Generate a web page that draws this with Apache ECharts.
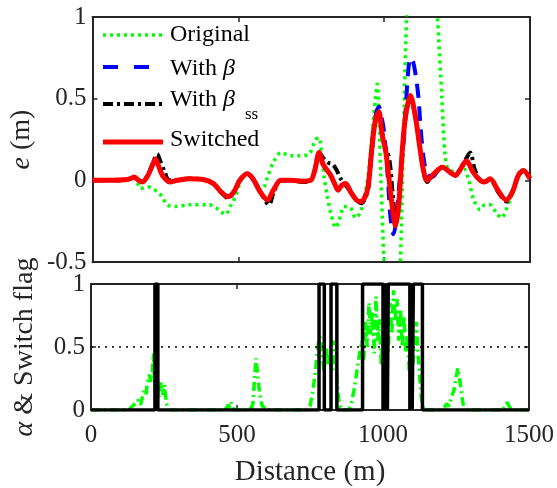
<!DOCTYPE html>
<html><head><meta charset="utf-8">
<script src="https://cdn.jsdelivr.net/npm/echarts@6/dist/echarts.min.js"></script>
<style>html,body{margin:0;padding:0;background:#fff}#c{width:557px;height:488px}</style>
</head><body><div id="c"></div>
<script>
// ---------- data ----------
const xTicksMin = 0, xTicksMax = 1500, xTickStep = 500;

const originalPts = [[0,0],[60,0],[110,0.003],[130,0.01],[143,0.02],[155,-0.02],[164,-0.05],[190,-0.04],[205,-0.05],[222,-0.07],[239,-0.10],[256,-0.15],[285,-0.16],[330,-0.15],[400,-0.15],[433,-0.18],[455,-0.21],[475,-0.15],[490,-0.10],[505,-0.02],[520,0.03],[532,0.04],[550,0.01],[570,-0.05],[588,-0.04],[600,0.02],[623,0.12],[646,0.17],[680,0.15],[703,0.15],[742,0.16],[765,0.25],[777,0.26],[786,0.15],[794,0.02],[805,-0.10],[817,-0.20],[834,-0.29],[850,-0.22],[862,-0.16],[885,-0.17],[902,-0.23],[917,-0.20],[930,-0.12],[945,0.03],[958,0.27],[970,0.5],[976,0.59],[988,0.05],[1000,-0.5],[1015,-0.85],[1035,-0.95],[1050,-0.75],[1056,-0.5],[1066,0.25],[1077,1.0],[1095,1.55],[1120,1.75],[1150,1.7],[1170,1.45],[1183,1.0],[1198,0.5],[1209,0.15],[1220,0.07],[1250,0.05],[1273,0.07],[1290,0.0],[1307,-0.12],[1329,-0.18],[1345,-0.15],[1363,-0.15],[1385,-0.2],[1403,-0.23],[1420,-0.17],[1431,-0.12],[1454,0.0],[1471,0.06],[1490,0.03],[1500,0.01]];

const withBetaPts = [[0,0],[60,0],[110,0.003],[130,0.01],[143,0.02],[158,0.0],[171,-0.01],[190,0.03],[205,0.09],[216,0.13],[226,0.09],[240,0.03],[255,0.0],[265,-0.01],[290,0.0],[330,0.01],[380,0.005],[415,-0.02],[440,-0.07],[465,-0.10],[485,-0.07],[505,0.0],[530,0.04],[550,0.01],[575,-0.07],[600,-0.12],[620,-0.06],[646,0.0],[680,0.0],[720,-0.005],[748,0.0],[762,0.06],[777,0.17],[790,0.1],[805,0.06],[817,0.03],[830,-0.02],[842,-0.06],[855,-0.03],[868,-0.02],[885,-0.07],[905,-0.12],[920,-0.13],[932,-0.11],[945,-0.04],[958,0.22],[970,0.39],[982,0.45],[993,0.37],[1000,0.29],[1010,0.08],[1016,-0.08],[1022,-0.23],[1032,-0.33],[1042,-0.24],[1052,-0.02],[1062,0.14],[1068,0.26],[1075,0.47],[1082,0.66],[1090,0.75],[1100,0.72],[1110,0.62],[1118,0.5],[1125,0.32],[1135,0.14],[1147,0.04],[1164,0.02],[1185,0.06],[1200,0.08],[1225,0.05],[1244,0.03],[1262,0.07],[1282,0.12],[1305,0.05],[1329,0.0],[1345,-0.01],[1363,0.01],[1390,-0.06],[1418,-0.12],[1440,-0.07],[1460,0.03],[1477,0.06],[1500,0.01]];

const withBetaSSPts = [[0,0],[60,0],[110,0.003],[130,0.01],[143,0.02],[158,0.0],[171,-0.01],[192,0.04],[210,0.12],[222,0.16],[232,0.12],[248,0.05],[262,0.0],[290,0.0],[330,0.01],[380,0.005],[415,-0.02],[440,-0.07],[465,-0.11],[485,-0.07],[505,0.0],[530,0.04],[550,0.01],[578,-0.08],[605,-0.15],[622,-0.07],[646,0.0],[680,0.0],[720,-0.01],[748,0.0],[762,0.06],[777,0.17],[790,0.14],[805,0.11],[822,0.1],[835,0.07],[851,0.01],[868,-0.03],[885,-0.07],[905,-0.12],[922,-0.14],[935,-0.11],[945,-0.05],[958,0.18],[970,0.36],[982,0.41],[993,0.3],[1002,0.21],[1012,0.17],[1020,0.1],[1030,-0.1],[1040,-0.27],[1050,-0.15],[1062,0.17],[1073,0.38],[1090,0.51],[1107,0.39],[1124,0.18],[1135,0.05],[1147,-0.01],[1170,0.04],[1200,0.08],[1225,0.05],[1244,0.03],[1262,0.07],[1280,0.13],[1295,0.17],[1310,0.07],[1329,0.0],[1345,-0.01],[1363,0.01],[1390,-0.07],[1420,-0.13],[1440,-0.07],[1460,0.03],[1477,0.06],[1500,0.01]];

const switchedPts = [[0,0],[60,0],[110,0.003],[130,0.01],[143,0.02],[158,0.0],[171,-0.01],[190,0.03],[205,0.09],[216,0.13],[226,0.09],[240,0.03],[255,0.0],[265,-0.01],[290,0.0],[330,0.01],[380,0.005],[415,-0.02],[440,-0.07],[465,-0.10],[485,-0.07],[505,0.0],[530,0.04],[550,0.01],[575,-0.07],[600,-0.12],[620,-0.06],[646,0.0],[680,0.0],[720,-0.005],[748,0.0],[762,0.06],[777,0.17],[790,0.1],[805,0.06],[817,0.03],[830,-0.02],[842,-0.06],[855,-0.03],[868,-0.02],[885,-0.07],[905,-0.12],[920,-0.13],[932,-0.11],[945,-0.04],[958,0.2],[970,0.37],[982,0.42],[993,0.28],[1005,0.18],[1016,0.02],[1027,-0.15],[1039,-0.28],[1050,-0.15],[1062,0.18],[1073,0.39],[1090,0.52],[1107,0.39],[1124,0.18],[1135,0.06],[1147,0.0],[1170,0.04],[1200,0.08],[1225,0.05],[1244,0.03],[1262,0.07],[1282,0.12],[1305,0.05],[1329,0.0],[1345,-0.01],[1363,0.01],[1390,-0.06],[1418,-0.12],[1440,-0.07],[1460,0.03],[1477,0.06],[1500,0.01]];

const alphaPts = [[0,0],[130,0],[137,0.02],[150,0.05],[160,0.08],[170,0.04],[180,0.15],[188,0.12],[195,0.25],[200,0.28],[205,0.22],[210,0.3],[214,0.45],[218,0.2],[224,0.3],[232,0.1],[240,0.22],[246,0.12],[252,0.2],[258,0.05],[264,0.02],[270,0],[460,0],[470,0.04],[475,0.02],[480,0.06],[485,0.02],[490,0],[540,0],[550,0.02],[555,0.06],[560,0.25],[565,0.41],[570,0.3],[575,0.18],[580,0.1],[585,0.04],[590,0.02],[600,0.03],[610,0],[740,0],[750,0.03],[760,0.15],[768,0.3],[775,0.45],[780,0.55],[786,0.58],[792,0.45],[798,0.3],[805,0.5],[812,0.35],[818,0.45],[825,0.3],[832,0.55],[838,0.4],[844,0.2],[850,0.05],[858,0],[880,0],[890,0.03],[900,0.15],[910,0.3],[920,0.45],[928,0.55],[934,0.4],[940,0.7],[946,0.5],[952,0.85],[958,0.6],[964,0.78],[970,0.45],[976,0.9],[982,0.55],[988,0.72],[994,0.35],[1000,0.6],[1006,0.3],[1012,0.55],[1018,0.45],[1024,0.85],[1030,0.6],[1036,0.95],[1042,0.7],[1048,0.88],[1054,0.55],[1060,0.8],[1066,0.5],[1072,0.75],[1078,0.45],[1084,0.6],[1090,0.3],[1096,0.5],[1102,0.35],[1108,0.55],[1114,0.7],[1120,0.45],[1126,0.25],[1132,0.08],[1140,0],[1200,0],[1210,0.02],[1218,0.05],[1226,0.03],[1234,0.1],[1242,0.15],[1250,0.25],[1256,0.33],[1262,0.25],[1268,0.15],[1274,0.05],[1280,0.02],[1290,0],[1410,0],[1418,0.03],[1425,0.06],[1432,0.03],[1440,0],[1500,0]];

const flagDist = [0,219,229,781,799,822,842,930,1000,1003,1008,1011,1015,1018,1092,1095,1100,1104,1135,1500];
const flagVal  = [0,1,0,1,0,1,0,1,0,1,0,1,0,1,0,1,0,1,0,0];
const thresholdLevel = 0.5;

// ---------- chart ----------
const FONT = 'Liberation Serif';
const AX = '#262626';
const chart = echarts.init(document.getElementById('c'), null, {renderer:'canvas'});
const plain = v => String(v);

function xAx(grid, pos, labels, extra) {
  return Object.assign({
    type:'value', gridIndex:grid, position:pos, min:xTicksMin, max:xTicksMax, interval:xTickStep,
    axisLine:{show:true, onZero:false, lineStyle:{color:AX, width:2}},
    axisTick:{show:true, inside:true, length:5, lineStyle:{color:AX, width:1.5}},
    axisLabel:{show:labels, fontFamily:FONT, fontSize:25, color:AX, margin:13, formatter:plain},
    splitLine:{show:false}
  }, extra||{});
}
function yAx(grid, pos, labels, min, max, extra) {
  return Object.assign({
    type:'value', gridIndex:grid, position:pos, min:min, max:max, interval:0.5,
    axisLine:{show:true, onZero:false, lineStyle:{color:AX, width:2}},
    axisTick:{show:true, inside:true, length:5, lineStyle:{color:AX, width:1.5}},
    axisLabel:{show:labels, fontFamily:FONT, fontSize:25, color:AX, margin:6, formatter:plain},
    splitLine:{show:false}
  }, extra||{});
}

const nameStyle = {fontFamily:FONT, fontSize:28, color:AX,
  rich:{i:{fontFamily:FONT, fontSize:28, fontStyle:'italic', color:AX}}};

const option = {
  animation:false,
  backgroundColor:'#fff',
  grid:[
    {left:91, top:17, width:439, height:245},
    {left:91, top:284, width:439, height:126}
  ],
  xAxis:[
    xAx(0,'bottom',false),
    xAx(0,'top',false),
    xAx(1,'bottom',true,{name:'Distance (m)', nameLocation:'middle', nameGap:48,
      nameTextStyle:{fontFamily:FONT, fontSize:29, color:AX}}),
    xAx(1,'top',false)
  ],
  yAxis:[
    yAx(0,'left',true,-0.5,1,{name:'{i|e} (m)', nameLocation:'middle', nameGap:52, nameTextStyle:nameStyle}),
    yAx(0,'right',false,-0.5,1),
    yAx(1,'left',true,0,1,{name:'{i|α} & Switch flag', nameLocation:'middle', nameGap:52, nameTextStyle:nameStyle}),
    yAx(1,'right',false,0,1)
  ],
  series:[
    {name:'Original', type:'line', xAxisIndex:0, yAxisIndex:0, data:originalPts, showSymbol:false, smooth:0.3,
      lineStyle:{color:'#00ff00', width:3.5, type:[3,4], cap:'butt'}},
    {name:'With β', type:'line', xAxisIndex:0, yAxisIndex:0, data:withBetaPts, showSymbol:false, smooth:0.3,
      lineStyle:{color:'#0000ff', width:4, type:[14,9]}},
    {name:'With βss', type:'line', xAxisIndex:0, yAxisIndex:0, data:withBetaSSPts, showSymbol:false, smooth:0.3,
      lineStyle:{color:'#000000', width:4, type:[10,4,3,4]}},
    {name:'Switched', type:'line', xAxisIndex:0, yAxisIndex:0, data:switchedPts, showSymbol:false, smooth:0.3,
      lineStyle:{color:'#ff0000', width:5}},
    {name:'alpha', type:'line', xAxisIndex:2, yAxisIndex:2, data:alphaPts, showSymbol:false,
      lineStyle:{color:'#00ff00', width:3.5, type:[9,4,2,4]},
      markLine:{silent:true, symbol:['none','none'], label:{show:false},
        lineStyle:{color:'#000', width:1.5, type:[2,5]}, data:[{yAxis:thresholdLevel}]}},
    {name:'flag', type:'line', xAxisIndex:2, yAxisIndex:2, step:'end',
      data:flagDist.map((d,i)=>[d, flagVal[i]]), showSymbol:false,
      lineStyle:{color:'#000', width:3.5}}
  ],
  graphic:[
    {type:'line', shape:{x1:103,y1:35,x2:163,y2:35}, style:{stroke:'#00ff00', lineWidth:3.5, lineDash:[3,4]}},
    {type:'line', shape:{x1:103,y1:67,x2:163,y2:67}, style:{stroke:'#0000ff', lineWidth:4, lineDash:[15,16]}},
    {type:'line', shape:{x1:103,y1:104,x2:163,y2:104}, style:{stroke:'#000', lineWidth:4, lineDash:[10,4,3,4]}},
    {type:'line', shape:{x1:103,y1:142,x2:163,y2:142}, style:{stroke:'#ff0000', lineWidth:5}},
    {type:'text', x:170, y:35, style:{text:'Original', font:'24px "Liberation Serif"', fill:'#000', verticalAlign:'middle'}},
    {type:'text', x:170, y:69, style:{text:'With {b|β}', font:'24px "Liberation Serif"', fill:'#000', verticalAlign:'middle',
      rich:{b:{fontStyle:'italic', fontFamily:FONT, fontSize:24, fill:'#000'}}}},
    {type:'text', x:170, y:100, style:{text:'With {b|β}', font:'24px "Liberation Serif"', fill:'#000', verticalAlign:'middle',
      rich:{b:{fontStyle:'italic', fontFamily:FONT, fontSize:24, fill:'#000'}}}},
    {type:'text', x:245, y:115, style:{text:'ss', font:'17px "Liberation Serif"', fill:'#000', verticalAlign:'middle'}},
    {type:'text', x:170, y:140, style:{text:'Switched', font:'24px "Liberation Serif"', fill:'#000', verticalAlign:'middle'}}
  ]
};
chart.setOption(option);
</script>
</body></html>
